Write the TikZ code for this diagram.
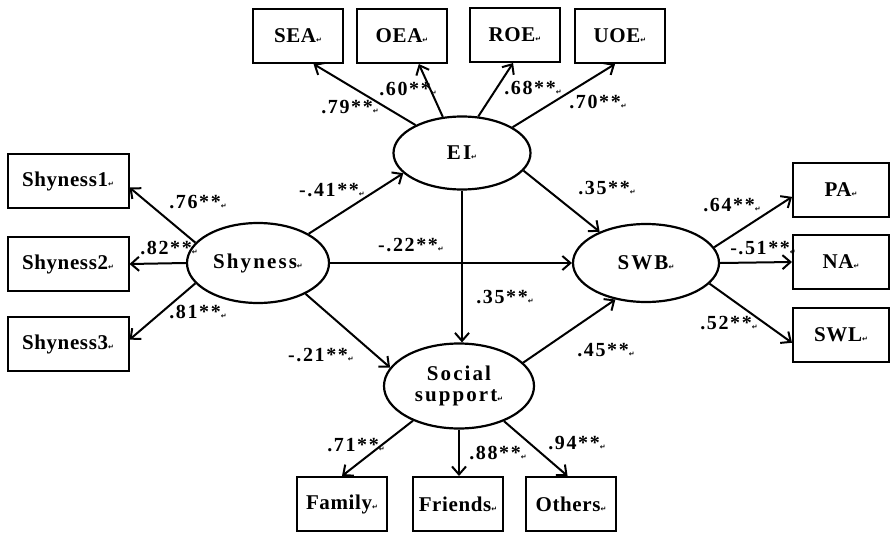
\documentclass[tikz,border=0pt]{standalone}
\usepackage{fontspec}
\setmainfont{Liberation Serif}
\newfontfamily\markfont{DejaVu Sans}
\usetikzlibrary{shapes.geometric,arrows.meta}
\newcommand{\wordret}{{\markfont\fontsize{7}{7}\selectfont↵}}
\begin{document}
\begin{tikzpicture}[x=1pt,y=-1pt,
	lat/.style={ellipse,draw,line width=2.2pt,inner sep=0pt,align=center,
		font=\bfseries\fontsize{21}{21}\selectfont\addfontfeature{LetterSpace=10}},
	ind/.style={rectangle,draw,line width=2pt,minimum width=90pt,minimum height=54pt,inner sep=0pt,
		font=\bfseries\fontsize{21}{21}\selectfont\addfontfeature{LetterSpace=3}},
	arr/.style={line width=2pt,-{Straight Barb[length=8pt,width=14pt,line width=2pt]}},
	lbl/.style={inner sep=0pt,font=\bfseries\fontsize{20}{20}\selectfont\addfontfeature{LetterSpace=8}}]
	\useasboundingbox (0,0) rectangle (890,532);
	% variabili latenti
	\node [lat,minimum width=137pt,minimum height=73pt] (EI) at (462,153) {EI\wordret};
	\node [lat,minimum width=142pt,minimum height=80pt] (Shy) at (258,263) {Shyness\wordret};
	\node [lat,minimum width=146pt,minimum height=78pt] (SWB) at (646,263) {SWB\wordret};
	\node [lat,minimum width=150pt,minimum height=85pt] (SS) at (459,386) {Social\\support\wordret};
	% indicatori
	\node [ind] (SEA) at (298,36) {SEA\wordret};
	\node [ind] (OEA) at (402,36) {OEA\wordret};
	\node [ind] (ROE) at (515,35) {ROE\wordret};
	\node [ind] (UOE) at (620,36) {UOE\wordret};
	\node [ind,minimum width=121pt] (Shy1) at (68,181) {Shyness1\wordret};
	\node [ind,minimum width=121pt] (Shy2) at (68,264) {Shyness2\wordret};
	\node [ind,minimum width=121pt] (Shy3) at (68,344) {Shyness3\wordret};
	\node [ind,minimum width=96pt] (PA) at (841,190) {PA\wordret};
	\node [ind,minimum width=96pt] (NA) at (841,262) {NA\wordret};
	\node [ind,minimum width=96pt] (SWL) at (841,335) {SWL\wordret};
	\node [ind] (Fam) at (342,504) {Family\wordret};
	\node [ind] (Fri) at (458,504) {Friends\wordret};
	\node [ind] (Oth) at (571,504) {Others\wordret};
	% frecce
	\draw [arr] (EI.149) -- (SEA.-61);
	\draw [arr] (EI.118) -- (OEA.-59);
	\draw [arr] (EI.66) -- (ROE.-94);
	\draw [arr] (EI.27) -- (UOE.-100);
	\draw [arr] (Shy.162) -- (Shy1.-6);
	\draw [arr] (Shy.west) -- (Shy2.east);
	\draw [arr] (Shy.198) -- (Shy3.4);
	\draw [arr] (Shy.30) -- (EI.199);
	\draw [arr] (Shy.east) -- (SWB.west);
	\draw [arr] (Shy.-33) -- (SS.165);
	\draw [arr] (EI.-16) -- (SWB.146);
	\draw [arr] (EI.south) -- (EI.south |- SS.north);
	\draw [arr] (SS.20) -- (SWB.230);
	\draw [arr] (SWB.13) -- (PA.188);
	\draw [arr] (SWB.east) -- (NA.west);
	\draw [arr] (SWB.-18) -- (SWL.189);
	\draw [arr] (SS.217) -- (Fam.north);
	\draw [arr] (SS.south) -- (SS.south |- Fri.north);
	\draw [arr] (SS.-38) -- (Oth.97);
	% coefficienti
	\node [lbl] (c79) at (350,107) {.79**\wordret};
	\node [lbl] (c60) at (408,89) {.60**\wordret};
	\node [lbl] (c68) at (533,88) {.68**\wordret};
	\node [lbl] (c70) at (598,102) {.70**\wordret};
	\node [lbl] (c76) at (198,202) {.76**\wordret};
	\node [lbl] (c82) at (169,248) {.82**\wordret};
	\node [lbl] (c81) at (198,312) {.81**\wordret};
	\node [lbl] (c41) at (332,190) {-.41**\wordret};
	\node [lbl] (c22) at (411,245) {-.22**\wordret};
	\node [lbl] (c35a) at (505,297) {.35**\wordret};
	\node [lbl] (c35b) at (607,188) {.35**\wordret};
	\node [lbl] (c64) at (732,205) {.64**\wordret};
	\node [lbl] (c51) at (763,248) {-.51**\wordret};
	\node [lbl] (c52) at (729,323) {.52**\wordret};
	\node [lbl] (c45) at (606,350) {.45**\wordret};
	\node [lbl] (c21) at (321,355) {-.21**\wordret};
	\node [lbl] (c71) at (356,445) {.71**\wordret};
	\node [lbl] (c88) at (498,453) {.88**\wordret};
	\node [lbl] (c94) at (577,443) {.94**\wordret};
\end{tikzpicture}
\end{document}
